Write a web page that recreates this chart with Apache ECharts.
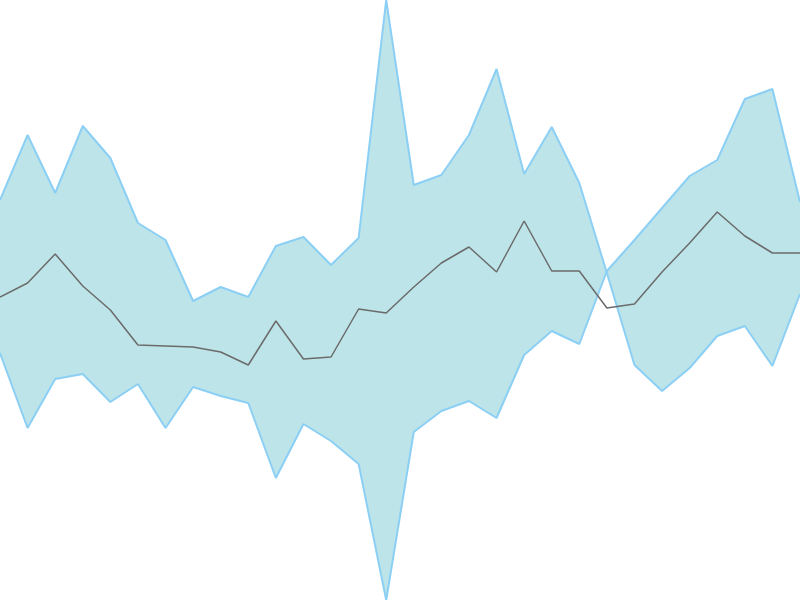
<!DOCTYPE html>
<html>
<head>
<meta charset="utf-8">
<script src="https://cdn.jsdelivr.net/npm/echarts@6/dist/echarts.min.js"></script>
<style>html,body{margin:0;padding:0;background:#fff;}#chart{width:800px;height:600px;}</style>
</head>
<body>
<div id="chart"></div>
<script>
var categories = ['1','2','3','4','5','6','7','8','9','10','11','12','13','14','15','16','17','18','19','20','21','22','23','24','25','26','27','28','29','30'];
var upperValues = [400,465,407,474,442,377,360,299,313,303,354,363,335,362,600,415,425,465,531,426,473,417,327,235,209,232,264,274,234,306];
var lowerValues = [247,172,221,226,198,216,172,213,204,197,122,176,159,136,0,168,189,199,182,245,269,256,329,360,392,424,440,501,511,398];
var midValues = [303,317,346,314,290,255,254,253,248,235,279,241,243,291,287,313,337,353,328,379,329,329,292,296,328,357,388,364,347,347];

var bandWidth = upperValues.map(function (v, i) { return v - lowerValues[i]; });

var chart = echarts.init(document.getElementById('chart'));
chart.setOption({
  animation: false,
  grid: { left: 0, right: 0, top: 0, bottom: 0, containLabel: false },
  xAxis: { type: 'category', data: categories, boundaryGap: false, show: false },
  yAxis: { type: 'value', min: 0, max: 600, show: false },
  series: [
    {
      name: 'Lower', type: 'line', data: lowerValues, stack: 'band', stackStrategy: 'all',
      showSymbol: false, z: 3,
      lineStyle: { color: '#8ccff5', width: 2 }
    },
    {
      name: 'Upper', type: 'line', data: bandWidth, stack: 'band', stackStrategy: 'all',
      showSymbol: false, z: 2,
      lineStyle: { color: '#8ccff5', width: 2 },
      areaStyle: { color: '#bde4e9', opacity: 1 }
    },
    {
      name: 'Mid', type: 'line', data: midValues, showSymbol: false, z: 4,
      lineStyle: { color: '#6b6b6b', width: 1.5 }
    }
  ]
});
</script>
</body>
</html>
